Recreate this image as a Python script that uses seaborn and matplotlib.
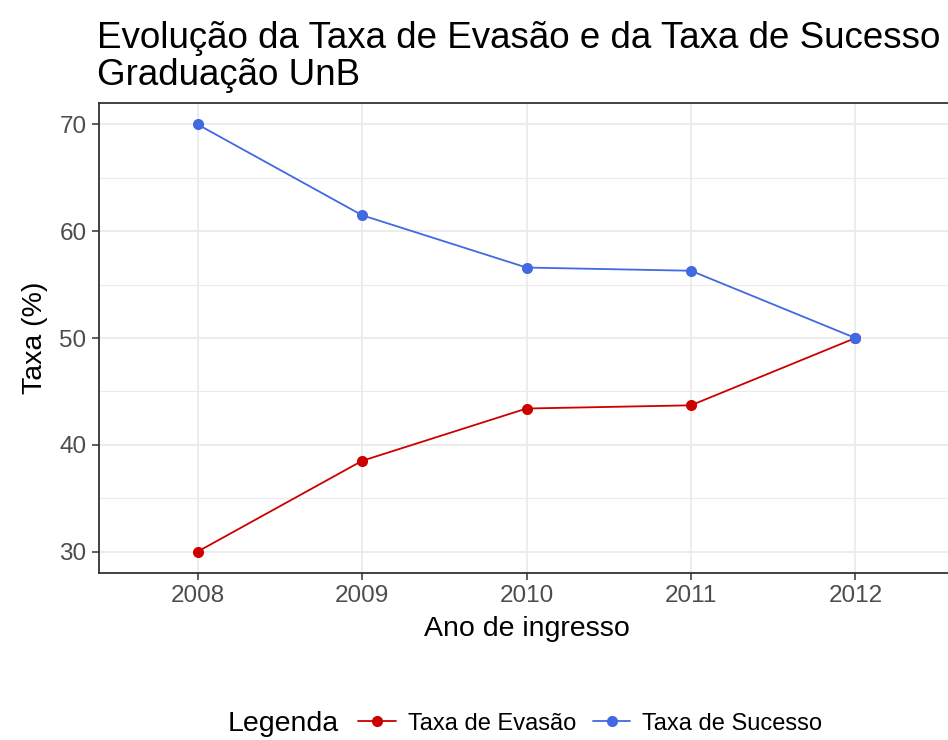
import pandas as pd
import matplotlib.pyplot as plt
import seaborn as sns

# Dados
anos = ["2008", "2009", "2010", "2011", "2012"]
taxa_evasao = [30.0, 38.5, 43.4, 43.7, 50.0]
taxa_sucesso = [70.0, 61.5, 56.6, 56.3, 50.0]
series = ["Taxa de Evasão", "Taxa de Sucesso"]
cores = {"Taxa de Evasão": "#CD0000", "Taxa de Sucesso": "#4169E1"}

df = pd.DataFrame({
    "ano": anos * 2,
    "taxa": taxa_evasao + taxa_sucesso,
    "serie": [series[0]] * len(anos) + [series[1]] * len(anos),
})

sns.set_style("white")
plt.rcParams["font.family"] = ["Liberation Sans", "DejaVu Sans"]
plt.rcParams["text.color"] = "black"

fig = plt.figure(figsize=(9.48, 7.4), dpi=100)
ax = fig.add_axes([0.1044, 0.2257, 0.902, 0.635])

sns.lineplot(
    data=df, x="ano", y="taxa", hue="serie", palette=cores,
    marker="o", markersize=8, markeredgewidth=0, linewidth=1.3,
    ax=ax, legend=False,
)

ax.set_xlim(-0.6, 4.6)
ax.set_ylim(28, 72)
ax.set_yticks([30, 40, 50, 60, 70])
ax.set_yticks([35, 45, 55, 65], minor=True)
ax.grid(True, which="major", color="#EBEBEB", linewidth=1.3)
ax.grid(True, which="minor", axis="y", color="#EBEBEB", linewidth=0.8)
ax.set_axisbelow(True)
for s in ax.spines.values():
    s.set_color("#333333")
    s.set_linewidth(1.3)

ax.tick_params(axis="both", which="major", length=5, width=1.1, color="#333333",
               labelsize=17.5, labelcolor="#4D4D4D", pad=4, left=True, bottom=True)
ax.tick_params(axis="y", which="minor", length=0)

ax.set_xlabel("Ano de ingresso", fontsize=20.5, color="black", labelpad=6)
ax.set_ylabel("Taxa (%)", fontsize=20.5, color="black", labelpad=8)

fig.text(0.102, 0.972, "Evolução da Taxa de Evasão e da Taxa de Sucesso\nGraduação UnB",
         fontsize=26.5, ha="left", va="top", linespacing=1.08, color="black")

# legenda horizontal em baixo
fig.text(0.24, 0.022, "Legenda", fontsize=20.5, ha="left", va="center", color="black")
handles = [
    plt.Line2D([], [], color=cores[s], marker="o", markersize=7, linewidth=1.3)
    for s in series
]
fig.legend(handles, series, loc="center left", bbox_to_anchor=(0.368, 0.022),
           ncol=2, frameon=False, fontsize=17, handlelength=1.6,
           handletextpad=0.5, columnspacing=0.7, borderaxespad=0,
           labelcolor="black")

fig.savefig("out.png", dpi=100)
